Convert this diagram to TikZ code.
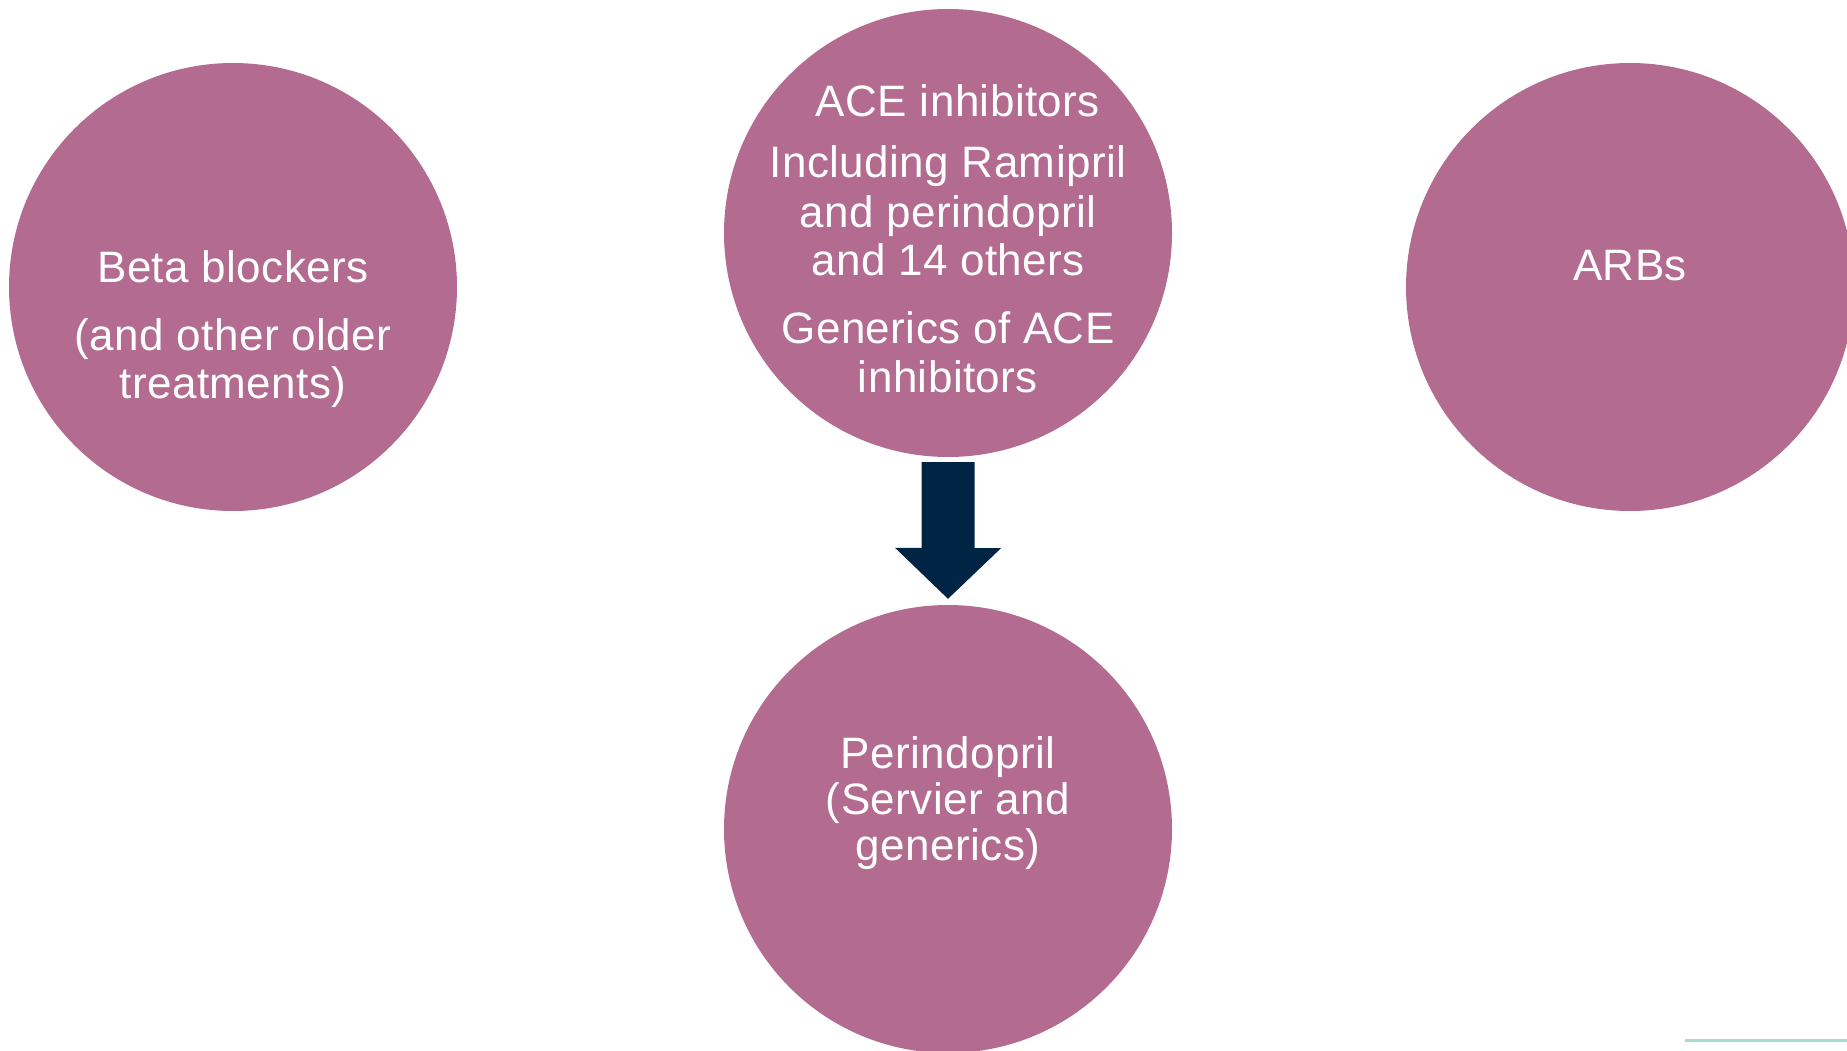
\documentclass[tikz,border=0pt]{standalone}
\usepackage{fontspec}
\setmainfont[LetterSpace=1]{Liberation Sans}
\usetikzlibrary{arrows.meta}
\definecolor{mauve}{RGB}{179,107,144}
\definecolor{navy}{RGB}{0,36,68}
\definecolor{teal}{RGB}{163,221,210}
\tikzset{
  bubble/.style={circle, fill=mauve, draw=none, minimum size=448pt, inner sep=0pt},
  label/.style={text=white, inner sep=0pt, anchor=base, font=\fontsize{44}{52}\selectfont},
  blockarrow/.style={fill=navy, draw=none}
}
\begin{document}
\begin{tikzpicture}[x=1pt, y=-1pt]
  \useasboundingbox (0,0) rectangle (1847,1051);
  \begin{scope}
    \clip (0,0) rectangle (1847,1051);
    % the four drug-class bubbles
    \node[bubble] (beta) at (233,287) {};
    \node[bubble] (ace)  at (948,233) {};
    \node[bubble] (arb)  at (1630,287) {};
    \node[bubble] (peri) at (948,829) {};

    % block arrow from ACE inhibitors down to perindopril
    \path[blockarrow]
      ([xshift=-26.5pt,yshift=-5pt]ace.south) -- ++(53,0) -- ++(0,86)
      -- ++(26.5,0) -- ([yshift=6pt]peri.north) -- ++(-53,-51)
      -- ++(26.5,0) -- cycle;

    % bubble texts
    \node[label] (beta1) at (233,282) {Beta blockers};
    \node[label] (beta2) at (233,350) {(and other older};
    \node[label] (beta3) at (233,398) {treatments)};

    \node[label] (ace1) at (958,117) {ACE inhibitors};
    \node[label] (ace2) at (948,178) {Including Ramipril};
    \node[label] (ace3) at (948,227) {and perindopril};
    \node[label] (ace4) at (948,275) {and 14 others};
    \node[label] (ace5) at (948,343) {Generics of ACE};
    \node[label] (ace6) at (948,392) {inhibitors};

    \node[label] (arb1) at (1630,280) {ARBs};

    \node[label] (peri1) at (948,768) {Perindopril};
    \node[label] (peri2) at (948,814) {(Servier and};
    \node[label] (peri3) at (948,860) {generics)};

    % accent rule in the corner
    \draw[teal, line width=3pt] (1685,1040) -- (1847,1040);
  \end{scope}
\end{tikzpicture}
\end{document}
